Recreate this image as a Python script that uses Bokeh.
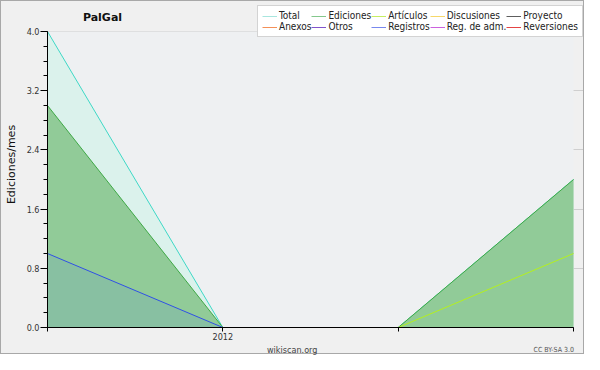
from bokeh.plotting import figure
from bokeh.layouts import column
from bokeh.models import (Range1d, FixedTicker, Legend, LegendItem, Label, Div,
                          ColumnDataSource, PrintfTickFormatter, BoxAnnotation)
from bokeh.embed import file_html
from bokeh.resources import INLINE

# ---- data ----
months = ["2011-12", "2012-01", "2012-02", "2012-03"]
tick_labels = {0: "", 1: "2012", 2: "", 3: ""}
total = [4, 0, 0, 2]
ediciones = [3, 0, 0, 2]
articulos = [0, 0, 0, 1]
registros = [1, 0, 0, 0]
series_names = ["Total", "Ediciones", "Artículos", "Discusiones", "Proyecto",
                "Anexos", "Otros", "Registros", "Reg. de adm.", "Reversiones"]
legend_colors = ["#a8e6de", "#84c88c", "#c6ee62", "#f6d86a", "#5e5e5e",
                 "#f49058", "#8054cc", "#7888ee", "#cc62de", "#e44444"]
y_ticks = [0.0, 0.8, 1.6, 2.4, 3.2, 4.0]
y_max = 4.0
title_text = "PalGal"
footer_left = "wikiscan.org"
footer_right = "CC BY-SA 3.0"

x = list(range(len(months)))
zeros = [0] * len(months)
src = ColumnDataSource(dict(x=x, total=total, ediciones=ediciones,
                            articulos=articulos, registros=registros, zero=zeros))

FONT = "DejaVu Sans"
CFONT = "'DejaVu Sans Condensed', 'DejaVu Sans'"

# layout (pixels)
W, H, DIV_H = 582, 342, 10
LEFT, RIGHT, BOTTOM = 44, 0, 16
plot_top_px = 30          # where y = 4.0 sits below the frame top
plot_right_px = 10        # gap between last month and frame right
frame_h = H - BOTTOM
frame_w = W - LEFT - RIGHT
y_end = y_max * frame_h / (frame_h - plot_top_px)
x_end = (len(months) - 1) * frame_w / (frame_w - plot_right_px)
LEG_W, LEG_H, LEG_TOP = 327, 28, 8

p = figure(width=W, height=H, output_backend="svg", toolbar_location=None,
           x_range=Range1d(0, x_end), y_range=Range1d(0, y_end),
           min_border_left=LEFT, min_border_right=RIGHT, min_border_top=0,
           min_border_bottom=BOTTOM)
p.background_fill_color = "#f0f0f0"
p.border_fill_color = "#f0f0f0"
p.outline_line_color = None
p.title.visible = False

p.add_layout(BoxAnnotation(bottom=0, top=y_max, left=0, right=x[-1],
                           fill_color="#eef0f2", fill_alpha=1,
                           line_color=None, level="underlay"))

# legend proxies (flat at zero, hidden under the x axis)
items = []
for name, col in zip(series_names, legend_colors):
    r = p.line(x="x", y="zero", source=src, line_color=col, line_width=1)
    items.append(LegendItem(label=name, renderers=[r]))

# areas and lines
p.varea(x="x", y1="zero", y2="total", source=src, fill_color="#dbf2ec")
p.line(x="x", y="total", source=src, line_color="#3ed8c6", line_width=1)
p.varea(x="x", y1="zero", y2="ediciones", source=src, fill_color="#91cb98")
p.line(x="x", y="ediciones", source=src, line_color="#3fa846", line_width=1)
p.line(x="x", y="articulos", source=src, line_color="#b4f01e", line_width=1)
p.varea(x="x", y1="zero", y2="registros", source=src, fill_color="#88c0a2")
p.line(x="x", y="registros", source=src, line_color="#3050e6", line_width=1)

# title inside the (extended) frame
p.add_layout(Label(x=55, y=frame_h - 16, x_units="screen", y_units="screen",
                   text=title_text, text_font=FONT, text_font_size="11px",
                   text_font_style="bold", text_color="#111111",
                   text_align="center", text_baseline="middle"))

legend = Legend(items=items, ncols=5, orientation="horizontal",
                location=(frame_w - LEG_W - 1, frame_h - LEG_TOP - LEG_H),
                label_text_font=CFONT, label_text_font_size="10px",
                label_text_color="#222222", label_height=10, glyph_height=10,
                glyph_width=15, label_standoff=2, spacing=0, padding=4,
                margin=0, border_line_color="#a8a8a8",
                background_fill_color="#ffffff", background_fill_alpha=1)
p.add_layout(legend, "center")

# axes
p.xgrid.grid_line_color = None
p.ygrid.grid_line_color = "#cfcfcf"
p.ygrid.ticker = FixedTicker(ticks=y_ticks)
p.ygrid.bounds = (0, x[-1])

p.yaxis.bounds = (0, y_max)
p.yaxis.ticker = FixedTicker(ticks=y_ticks,
                             minor_ticks=[i * 0.2 for i in range(21)])
p.yaxis.formatter = PrintfTickFormatter(format="%.1f")
p.yaxis.axis_label = "Ediciones/mes"
p.yaxis.axis_label_text_font = FONT
p.yaxis.axis_label_text_font_size = "11px"
p.yaxis.axis_label_text_font_style = "normal"
p.yaxis.axis_label_text_color = "#111111"
p.yaxis.axis_label_standoff = 6
p.yaxis.major_tick_out = 7
p.yaxis.major_tick_in = 0
p.yaxis.minor_tick_out = 4
p.yaxis.minor_tick_in = 0
p.yaxis.major_label_standoff = 1
p.yaxis.major_label_text_font = CFONT
p.yaxis.major_label_text_font_size = "9px"
p.yaxis.major_label_text_color = "#333333"

p.xaxis.bounds = (0, x[-1])
p.xaxis.ticker = FixedTicker(ticks=x)
p.xaxis.major_label_overrides = tick_labels
p.xaxis.major_tick_out = 4
p.xaxis.major_tick_in = 0
p.xaxis.minor_tick_out = 0
p.xaxis.major_label_standoff = 1
p.xaxis.major_label_text_font = CFONT
p.xaxis.major_label_text_font_size = "9px"
p.xaxis.major_label_text_color = "#333333"

for ax in (p.xaxis[0], p.yaxis[0]):
    ax.axis_line_color = "#000000"
    ax.major_tick_line_color = "#000000"
    ax.minor_tick_line_color = "#000000"

footer_html = (
    f'<div style="position:relative;width:{W}px;height:{DIV_H}px;'
    f"font-family:'DejaVu Sans Condensed','DejaVu Sans';line-height:{DIV_H}px;\">"
    f'<span style="position:absolute;left:266px;top:0;font-size:9px;'
    f'color:#444444;">{footer_left}</span>'
    f'<span style="position:absolute;right:9px;top:0;font-size:7px;'
    f'color:#555555;">{footer_right}</span></div>'
)
footer = Div(text=footer_html, width=W, height=DIV_H, margin=0,
             styles={"overflow": "visible", "background-color": "#f0f0f0"})

layout = column(p, footer, spacing=0,
                styles={"border": "1px solid #a8a8a8",
                        "background-color": "#f0f0f0"})

open("out.html", "w").write(file_html(layout, INLINE))
